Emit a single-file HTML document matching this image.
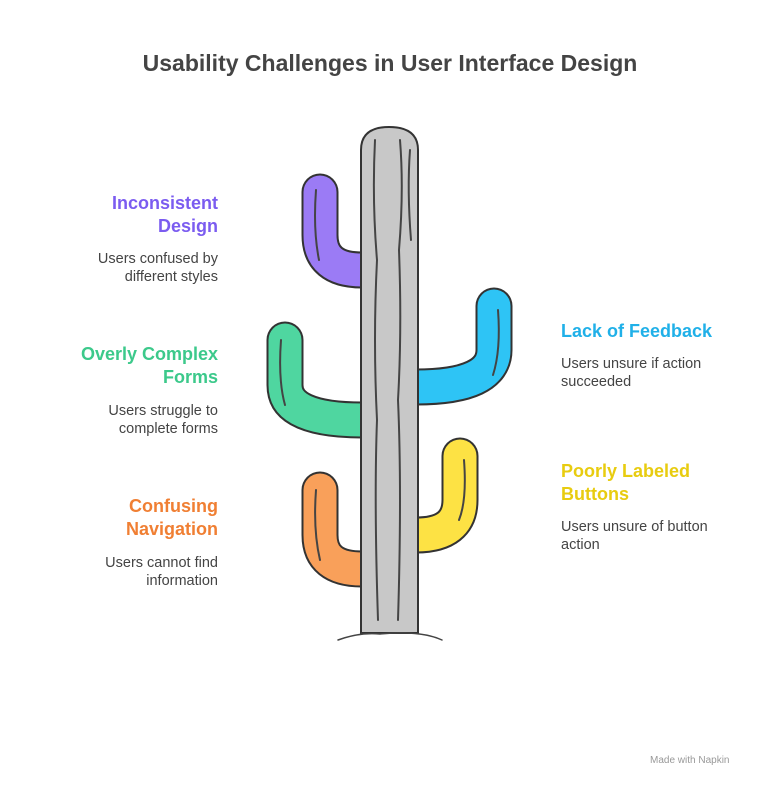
<!DOCTYPE html>
<html><head><meta charset="utf-8"><style>
body{margin:0;width:780px;height:789px;background:#fff;position:relative;overflow:hidden;font-family:"Liberation Sans",sans-serif}
.t{position:absolute;font-size:18px;font-weight:bold;line-height:23px}
.d{position:absolute;font-size:14.5px;color:#444;line-height:18px}
.r{text-align:right;right:562px}
.l{left:561px}
</style></head><body>
<div style="position:absolute;left:0;width:780px;top:50px;text-align:center;font-size:23px;font-weight:bold;color:#444">Usability Challenges in User Interface Design</div>
<svg width="780" height="789" style="position:absolute;left:0;top:0" fill="none" stroke-linecap="round">
<g stroke-linecap="round">
<path d="M320 192 L320 235 Q320 270 362 270" stroke="#333" stroke-width="37"/>
<path d="M320 192 L320 235 Q320 270 362 270" stroke="#9b7bf5" stroke-width="33"/>
<path d="M285 340 L285 385 Q285 420 362 420" stroke="#333" stroke-width="37"/>
<path d="M285 340 L285 385 Q285 420 362 420" stroke="#4fd6a0" stroke-width="33"/>
<path d="M494 306 L494 350 Q494 387 416 387" stroke="#333" stroke-width="37"/>
<path d="M494 306 L494 350 Q494 387 416 387" stroke="#2ec4f5" stroke-width="33"/>
<path d="M320 490 L320 535 Q320 569 362 569" stroke="#333" stroke-width="37"/>
<path d="M320 490 L320 535 Q320 569 362 569" stroke="#f9a05a" stroke-width="33"/>
<path d="M460 456 L460 500 Q460 535 416 535" stroke="#333" stroke-width="37"/>
<path d="M460 456 L460 500 Q460 535 416 535" stroke="#fde244" stroke-width="33"/>
</g>
<path d="M361 633 L361 150 Q361 127 389 127 Q418 127 418 150 L418 633 Z" fill="#c8c8c8" stroke="#333" stroke-width="2"/>
<g stroke="#444" stroke-width="2">
<path d="M375 140 q-3 60 2 120 q-4 80 0 160 q-3 80 1 200"/>
<path d="M400 140 q4 50 -1 110 q3 80 -1 150 q4 90 0 220"/>
<path d="M410 150 q-3 40 1 90"/>
<path d="M316 190 q-3 40 3 70"/><path d="M281 340 q-3 40 4 65"/><path d="M498 310 q3 40 -5 65"/><path d="M316 490 q-3 40 4 70"/><path d="M464 460 q3 40 -5 60"/>
</g>
<path d="M338 640 Q360 632 380 634 Q420 630 442 640" stroke="#444" stroke-width="1.5"/>
</svg>
<div class="t r" style="top:192px;color:#7b5cf0">Inconsistent<br>Design</div>
<div class="d r" style="top:250px">Users confused by<br>different styles</div>
<div class="t r" style="top:343px;color:#3cc98b">Overly Complex<br>Forms</div>
<div class="d r" style="top:402px">Users struggle to<br>complete forms</div>
<div class="t r" style="top:495px;color:#f07f33">Confusing<br>Navigation</div>
<div class="d r" style="top:554px">Users cannot find<br>information</div>
<div class="t l" style="top:320px;color:#20b0e8">Lack of Feedback</div>
<div class="d l" style="top:355px">Users unsure if action<br>succeeded</div>
<div class="t l" style="top:460px;color:#e8cc10">Poorly Labeled<br>Buttons</div>
<div class="d l" style="top:518px">Users unsure of button<br>action</div>
<div style="position:absolute;left:650px;top:755px;font-size:10px;color:#999">Made with Napkin</div>
</body></html>
